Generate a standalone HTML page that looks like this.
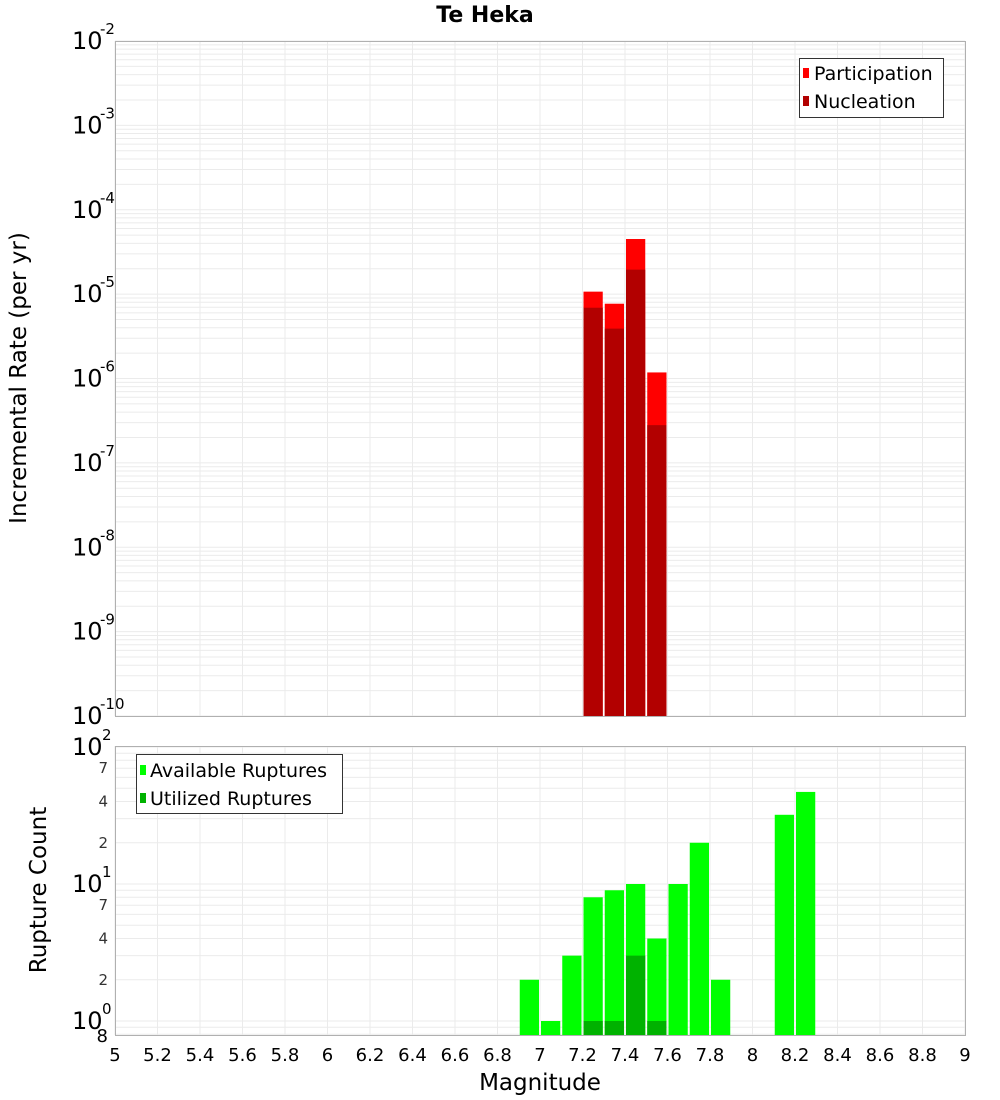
<!DOCTYPE html>
<html><head><meta charset="utf-8"><style>
html,body{margin:0;padding:0;background:#fff;}
svg{display:block;font-family:"DejaVu Sans","Liberation Sans",sans-serif;}
</style></head><body>
<svg id="c" width="1000" height="1100" xmlns="http://www.w3.org/2000/svg"></svg>
<script>
// Top panel data
const topMags = [7.25, 7.35, 7.45, 7.55];
const participation = [1.07e-5, 7.7e-6, 4.5e-5, 1.18e-6];
const nucleation = [6.9e-6, 3.9e-6, 1.95e-5, 2.8e-7];
// Bottom panel data
const botMags = [6.95, 7.05, 7.15, 7.25, 7.35, 7.45, 7.55, 7.65, 7.75, 7.85, 8.15, 8.25];
const available = [2, 1, 3, 8, 9, 10, 4, 10, 20, 2, 32, 47];
const utilMags = [7.25, 7.35, 7.45, 7.55];
const utilized = [1, 1, 3, 1];
const xTicks = [5,5.2,5.4,5.6,5.8,6,6.2,6.4,6.6,6.8,7,7.2,7.4,7.6,7.8,8,8.2,8.4,8.6,8.8,9];
const topExps = [-2,-3,-4,-5,-6,-7,-8,-9,-10];

const NS = "http://www.w3.org/2000/svg";
const svg = document.getElementById('c');
const X0 = 115, X1 = 965;
const x = m => X0 + (m - 5) / 4 * (X1 - X0);
const T0 = 41, T1 = 716;
const yTop = v => T0 + (-2 - Math.log10(v)) * (T1 - T0) / 8;
const B0 = 746, B1 = 1035;
const yBot = v => 1021 - Math.log10(v) * 137;

function el(tag, attrs, parent) {
  const e = document.createElementNS(NS, tag);
  for (const k in attrs) e.setAttribute(k, attrs[k]);
  (parent || svg).appendChild(e);
  return e;
}
function txt(s, attrs, parent) { const t = el('text', attrs, parent); t.textContent = s; return t; }

function grid(top, bottom, yf, decs) {
  const g = el('g', {});
  
  
  for (let i = 0; i < xTicks.length; i++) {
    const xx = x(xTicks[i]);
    el('line', {x1: xx, x2: xx, y1: top, y2: bottom, stroke: '#ebebeb', 'stroke-width': 1}, g);
  }
  for (const d of decs) {
    for (let k = 1; k <= 9; k++) {
      const yy = yf(k * Math.pow(10, d));
      if (yy < top - 0.5 || yy > bottom + 0.5) continue;
      el('line', {x1: X0, x2: X1, y1: yy, y2: yy, stroke: '#ebebeb', 'stroke-width': 1}, g);
    }
  }
}
grid(T0, T1, yTop, [-10,-9,-8,-7,-6,-5,-4,-3,-2]);
grid(B0, B1, yBot, [-1,0,1,2]);

for (let i = 0; i < topMags.length; i++) {
  const xl = x(topMags[i] - 0.05) + 1, w = x(topMags[i] + 0.05) - x(topMags[i] - 0.05) - 2;
  const p = el('rect', {x: xl, y: yTop(participation[i]), width: w, height: T1 - yTop(participation[i]), fill: '#ff0000'});
  
  
  const n = el('rect', {x: xl, y: yTop(nucleation[i]), width: w, height: T1 - yTop(nucleation[i]), fill: '#b20000'});
  
  
}
for (let i = 0; i < botMags.length; i++) {
  const xl = x(botMags[i] - 0.05) + 1, w = x(botMags[i] + 0.05) - x(botMags[i] - 0.05) - 2;
  const r = el('rect', {x: xl, y: yBot(available[i]), width: w, height: B1 - yBot(available[i]), fill: '#00ff00'});
  
  
}
for (let i = 0; i < utilMags.length; i++) {
  const xl = x(utilMags[i] - 0.05) + 1, w = x(utilMags[i] + 0.05) - x(utilMags[i] - 0.05) - 2;
  const r = el('rect', {x: xl, y: yBot(utilized[i]), width: w, height: B1 - yBot(utilized[i]), fill: '#00b200'});
  
  
}

el('rect', {x: X0 + 0.5, y: T0 + 0.5, width: X1 - X0, height: T1 - T0, fill: 'none', stroke: '#b0b0b0'});
el('rect', {x: X0 + 0.5, y: B0 + 0.5, width: X1 - X0, height: B1 - B0, fill: 'none', stroke: '#b0b0b0'});

const tt = txt('Te Heka', {x: 485, y: 22, 'font-size': 22, 'font-weight': 'bold', 'text-anchor': 'middle'});



for (let i = 0; i < topExps.length; i++) {
  const yy = yTop(Math.pow(10, topExps[i]));
  const t = txt('10', {x: 72, y: yy + 8, 'font-size': 24}, svg);
  
  
  txt(String(topExps[i]), {x: 100, y: yy - 7, 'font-size': 15});
}
const yt = txt('Incremental Rate (per yr)', {x: 0, y: 0, 'font-size': 23, 'text-anchor': 'middle', transform: 'translate(26,378) rotate(-90)'});



const botMajor = [[100, '2'], [10, '1'], [1, '0']];
for (const [v, e] of botMajor) {
  const yy = yBot(v);
  const t = txt('10', {x: 72, y: yy + 8, 'font-size': 24});
  
  
  txt(e, {x: 102, y: yy - 7, 'font-size': 15});
}
for (const v of [70, 40, 20, 7, 4, 2]) {
  txt(String(v).charAt(0), {x: 108, y: yBot(v) + 5, 'font-size': 15, 'text-anchor': 'end', fill: '#333'});
}
txt('8', {x: 108, y: 1042, 'font-size': 18, 'text-anchor': 'end'});
const yb = txt('Rupture Count', {x: 0, y: 0, 'font-size': 23, 'text-anchor': 'middle', transform: 'translate(46,890) rotate(-90)'});



for (const t of xTicks) {
  const s = (Math.round(t * 10) / 10).toString();
  const lab = txt(s, {x: x(t), y: 1061, 'font-size': 18, 'text-anchor': 'middle'});
  
  
}
const xt = txt('Magnitude', {x: 540, y: 1090, 'font-size': 23, 'text-anchor': 'middle'});



const lg1 = el('g', {});


el('rect', {x: 799.5, y: 58.5, width: 144, height: 59, fill: '#fff', stroke: '#333'}, lg1);
el('rect', {x: 803, y: 68, width: 6, height: 10, fill: '#ff0000'}, lg1);
txt('Participation', {x: 814, y: 80, 'font-size': 19}, lg1);
el('rect', {x: 803, y: 96, width: 6, height: 10, fill: '#b20000'}, lg1);
txt('Nucleation', {x: 814, y: 108, 'font-size': 19}, lg1);

const lg2 = el('g', {});


el('rect', {x: 136.5, y: 754.5, width: 206, height: 59, fill: '#fff', stroke: '#333'}, lg2);
el('rect', {x: 140, y: 765, width: 6, height: 10, fill: '#00ff00'}, lg2);
txt('Available Ruptures', {x: 150, y: 777, 'font-size': 19}, lg2);
el('rect', {x: 140, y: 793, width: 6, height: 10, fill: '#00b200'}, lg2);
txt('Utilized Ruptures', {x: 150, y: 805, 'font-size': 19}, lg2);
</script>
</body></html>
